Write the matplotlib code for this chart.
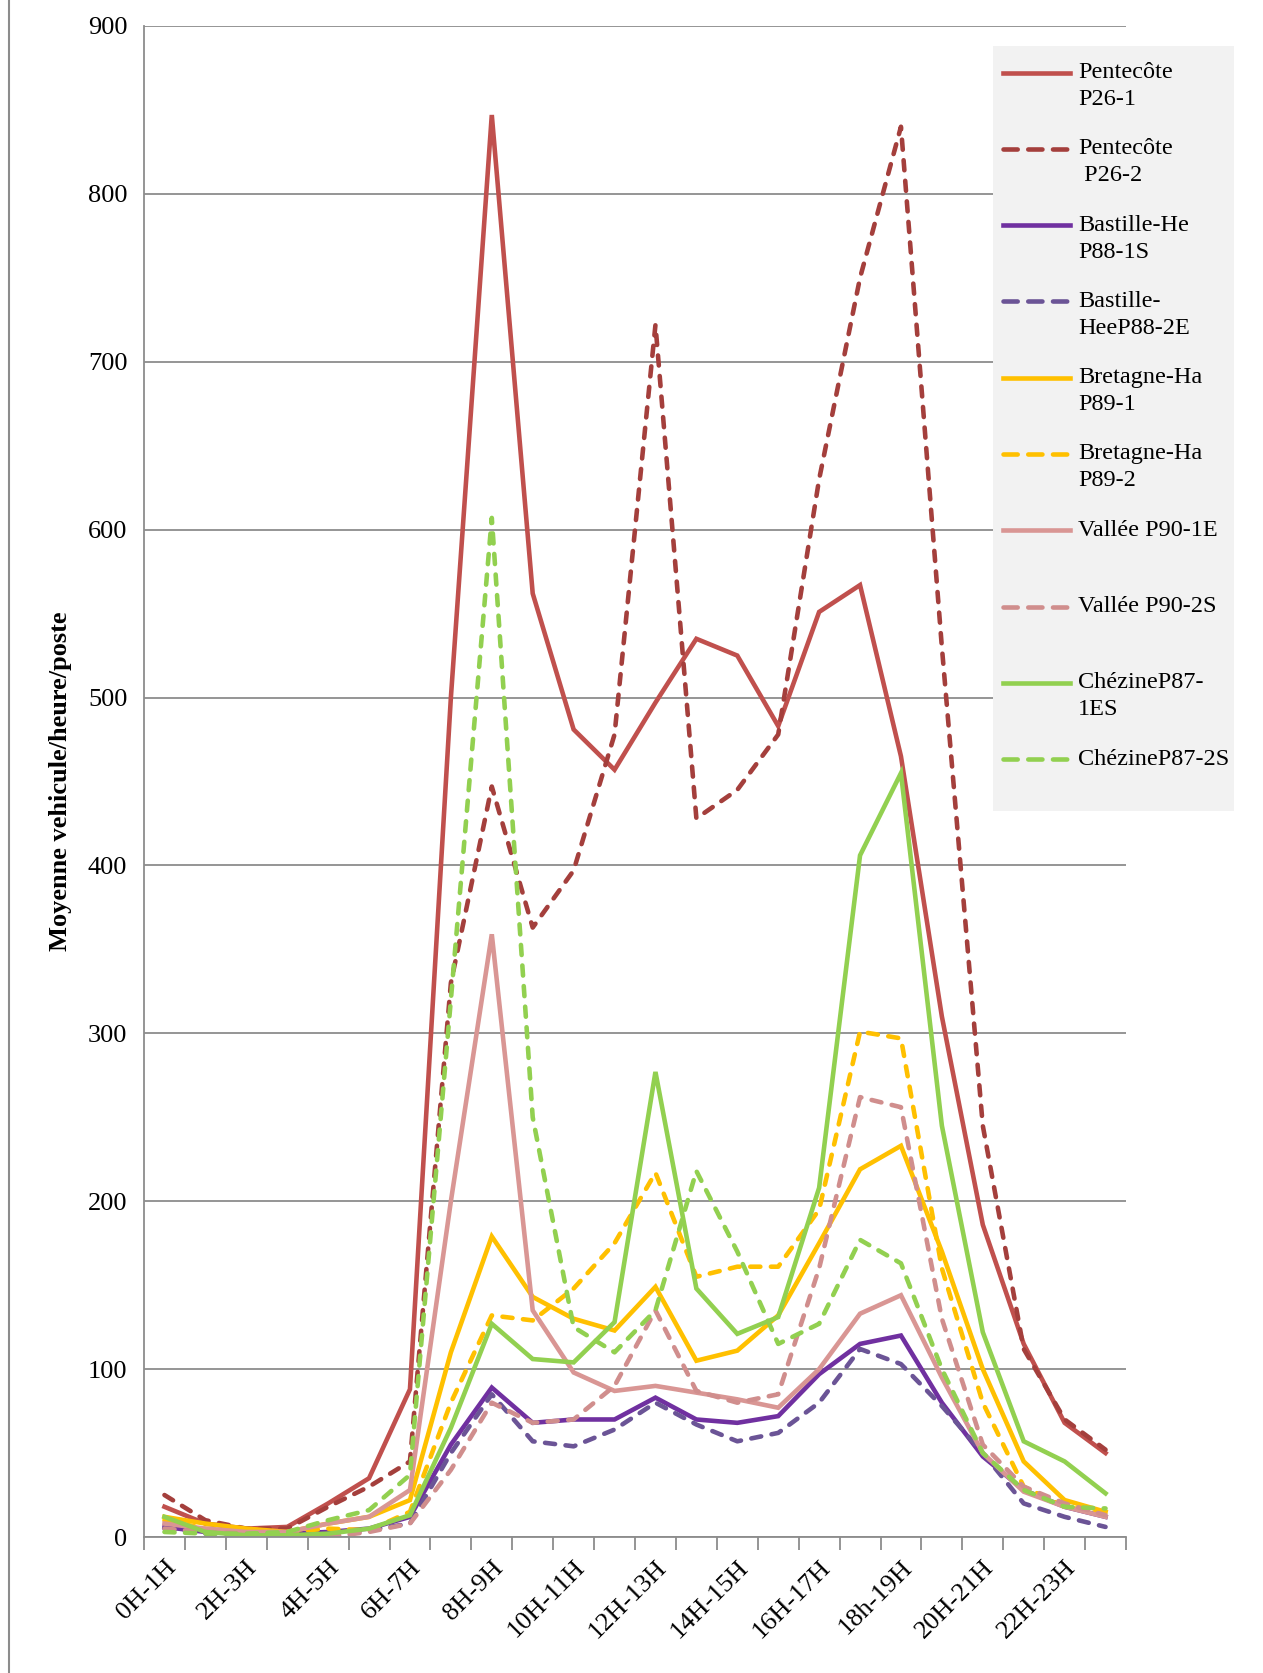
import numpy as np
import matplotlib
matplotlib.use("Agg")
from matplotlib import pyplot as plt
from matplotlib.lines import Line2D
from matplotlib.patches import Rectangle

plt.rcParams['font.family'] = ['Liberation Serif', 'DejaVu Serif']

# categories (tranches horaires)
heures = ["0H-1H", "1H-2H", "2H-3H", "3H-4H", "4H-5H", "5H-6H", "6H-7H", "7H-8H",
          "8H-9H", "9H-10H", "10H-11H", "11H-12H", "12H-13H", "13H-14H", "14H-15H",
          "15H-16H", "16H-17H", "17H-18H", "18h-19H", "19H-20H", "20H-21H",
          "21H-22H", "22H-23H", "23H-24H"]

# series (vehicules/heure/poste)
pentecote_1 = [18, 8, 5, 6, 20, 35, 88, 500, 847, 562, 481, 457, 497, 535, 525, 483,
               551, 567, 465, 310, 186, 115, 68, 50]
pentecote_2 = [25, 10, 5, 5, 18, 30, 45, 330, 447, 363, 397, 478, 722, 428, 445, 478,
               630, 750, 840, 530, 245, 112, 70, 52]
bastille_1 = [6, 3, 2, 2, 3, 5, 12, 55, 89, 68, 70, 70, 83, 70, 68, 72,
              97, 115, 120, 80, 48, 28, 18, 12]
bastille_2 = [5, 2, 2, 2, 2, 4, 8, 50, 85, 57, 54, 64, 80, 67, 57, 62,
              80, 112, 103, 78, 50, 20, 12, 6]
bretagne_1 = [12, 8, 5, 3, 8, 12, 22, 110, 179, 143, 130, 123, 149, 105, 111, 132,
              175, 219, 233, 170, 100, 45, 22, 15]
bretagne_2 = [10, 5, 3, 3, 5, 4, 15, 80, 132, 129, 148, 175, 217, 155, 161, 161,
              195, 301, 297, 160, 80, 30, 18, 14]
vallee_1 = [8, 5, 3, 3, 8, 12, 28, 200, 359, 135, 98, 87, 90, 86, 82, 77,
            100, 133, 144, 95, 50, 27, 18, 12]
vallee_2 = [5, 3, 2, 2, 0, 3, 8, 40, 80, 68, 70, 90, 135, 87, 80, 85,
            160, 262, 256, 130, 55, 30, 20, 13]
chezine_1 = [12, 3, 1, 1, 2, 5, 13, 65, 127, 106, 104, 128, 277, 148, 121, 131,
             208, 406, 455, 245, 122, 57, 45, 26]
chezine_2 = [3, 2, 2, 3, 10, 16, 37, 320, 607, 250, 125, 110, 135, 218, 170, 115,
             127, 177, 163, 100, 50, 28, 18, 17]

noms = ["Pentecôte\nP26-1", "Pentecôte\n P26-2", "Bastille-He\nP88-1S",
        "Bastille-\nHeeP88-2E", "Bretagne-Ha\nP89-1", "Bretagne-Ha\nP89-2",
        "Vallée P90-1E", "Vallée P90-2S", "ChézineP87-\n1ES", "ChézineP87-2S"]
series = [pentecote_1, pentecote_2, bastille_1, bastille_2, bretagne_1, bretagne_2,
          vallee_1, vallee_2, chezine_1, chezine_2]
couleurs = ["#C0504D", "#A43F3C", "#7030A0", "#6B5496", "#FFC000", "#FFC000",
            "#D99694", "#D08E8D", "#92D050", "#92D050"]
pointilles = [False, True, False, True, False, True, False, True, False, True]

W, H = 1263, 1673
fig = plt.figure(figsize=(W / 100, H / 100), dpi=100)
ax = fig.add_axes([144 / W, 1 - 1537 / H, (1126 - 144) / W, (1537 - 26) / H])

x = np.arange(len(heures))
lw = 3.3
for vals, c, dash in zip(series, couleurs, pointilles):
    if dash:
        ax.plot(x, vals, color=c, lw=lw, dashes=(2.2, 2.3), dash_capstyle='round')
    else:
        ax.plot(x, vals, color=c, lw=lw, solid_joinstyle='miter')

ax.set_xlim(-0.5, len(heures) - 0.5)
ax.set_ylim(0, 900)
ax.set_yticks(range(0, 901, 100))
ax.yaxis.grid(True, color='#8c8c8c', lw=1.3)
ax.set_axisbelow(True)
ax.tick_params(axis='y', length=0, labelsize=19, pad=12)

ax.set_xticks(x[::2])
ax.set_xticklabels(heures[::2], rotation=45, ha='right', va='top',
                   rotation_mode='anchor', fontsize=19)
ax.tick_params(axis='x', which='major', length=0, pad=14)
ax.set_xticks(np.arange(-0.5, len(heures)), minor=True)
ax.tick_params(axis='x', which='minor', length=9, width=1.3, color='#8c8c8c')

for s in ['top', 'right']:
    ax.spines[s].set_visible(False)
for s in ['left', 'bottom']:
    ax.spines[s].set_color('#8c8c8c')
    ax.spines[s].set_linewidth(1.3)

ax.set_ylabel("Moyenne vehicule/heure/poste", fontsize=19, fontweight='bold')
ax.yaxis.set_label_coords(-(144 - 72) / (1126 - 144), 0.5)

# legende dessinee a la main (fond gris, entrees espacees regulierement)
def fx(px):
    return px / W

def fy(py):
    return 1 - py / H

fig.add_artist(Rectangle((fx(993), fy(811)), fx(1234) - fx(993), fy(46) - fy(811),
                         transform=fig.transFigure, facecolor='#f2f2f2',
                         edgecolor='none', zorder=5))
y0, pas = 72.5, 76.3
for i, (nom, c, dash) in enumerate(zip(noms, couleurs, pointilles)):
    yy = y0 + i * pas
    ln = Line2D([fx(1003), fx(1070)], [fy(yy), fy(yy)], transform=fig.transFigure,
                color=c, lw=lw, zorder=6)
    if dash:
        ln.set_dashes((3.1, 2.3))
        ln.set_dash_capstyle('round')
    fig.add_artist(ln)
    for j, ligne in enumerate(nom.split("\n")):
        fig.text(fx(1078), fy(yy + j * 27), ligne, fontsize=17.5, va='center',
                 ha='left', zorder=7)

# bordure gauche de la zone graphique
fig.add_artist(Line2D([fx(8.5), fx(8.5)], [0, 1], transform=fig.transFigure,
                      color='#8c8c8c', lw=1.5))

fig.savefig("out.png", dpi=100)
